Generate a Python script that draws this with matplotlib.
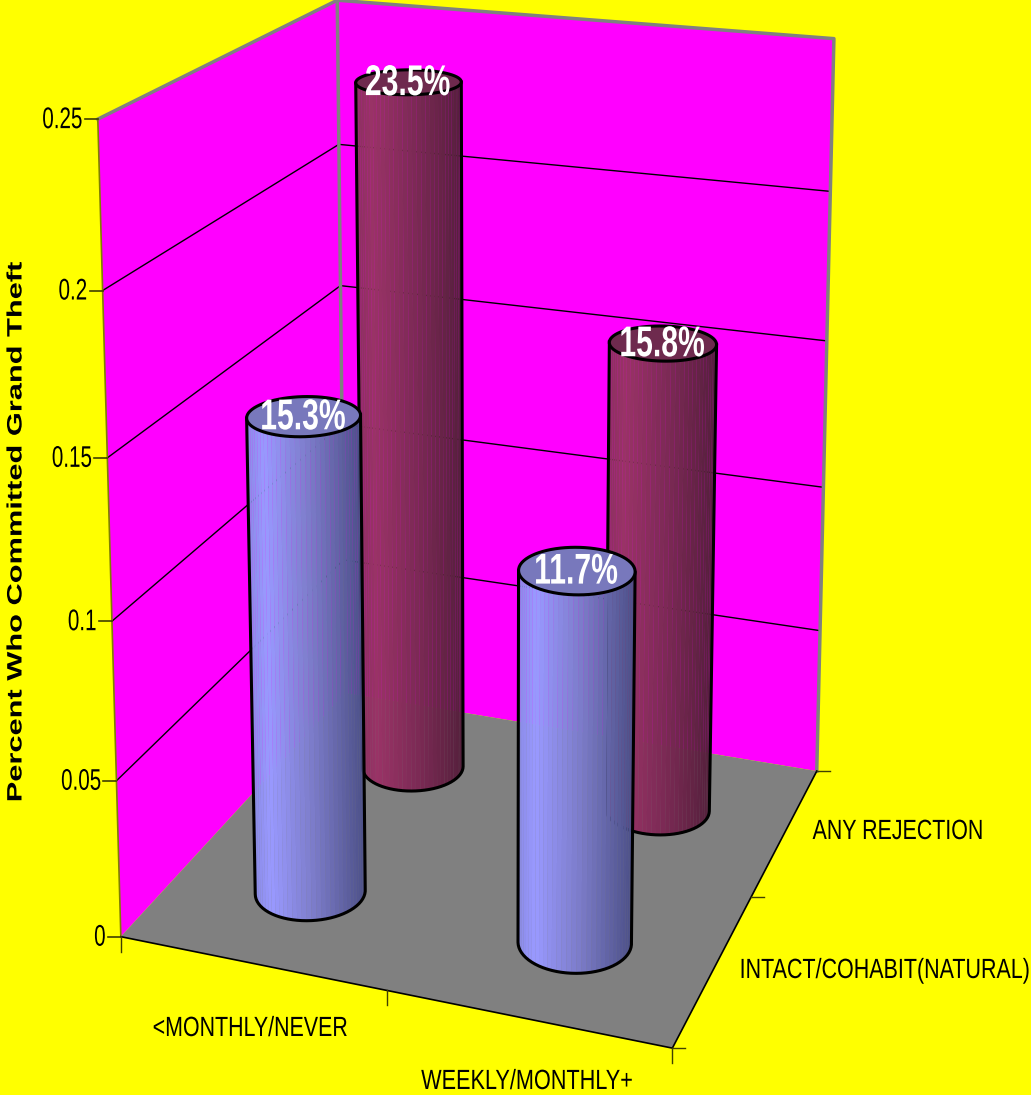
import numpy as np
import matplotlib
matplotlib.use("Agg")
import matplotlib.pyplot as plt
import matplotlib.patheffects as pe
from matplotlib.collections import PolyCollection
from matplotlib.colors import to_rgb
from matplotlib.transforms import Affine2D

plt.rcParams['font.family'] = ['Liberation Sans', 'DejaVu Sans']

# data
x_labels = ['<MONTHLY/NEVER', 'WEEKLY/MONTHLY+']
depth_labels = ['INTACT/COHABIT(NATURAL)', 'ANY REJECTION']
z_ticks = [0, 0.05, 0.1, 0.15, 0.2, 0.25]
z_tick_labels = ['0', '0.05', '0.1', '0.15', '0.2', '0.25']
intact_values = [0.153, 0.117]
rejection_values = [0.235, 0.158]

# box corners (x, depth, z) and where they sit on the picture, used to fit the camera
box_corners = [(0, 0, 0), (2, 0, 0), (2, 2, 0), (0, 2, 0), (0, 0, 0.25), (0, 2, 0.25), (2, 2, 0.25)]
box_pixels = [(121, 936), (672, 1049), (817, 770), (345, 694), (98, 119), (337, 0), (834, 39)]

BAR_R = 0.197
Z_SCALE = 8.0


def fit_camera(corners, pixels):
    rows, rhs = [], []
    for (x, y, z), (u, v) in zip(corners, pixels):
        z = z * Z_SCALE
        rows.append([x, y, z, 1, 0, 0, 0, 0, -u * x, -u * y, -u * z])
        rows.append([0, 0, 0, 0, x, y, z, 1, -v * x, -v * y, -v * z])
        rhs += [u, v]
    m = np.linalg.lstsq(np.array(rows, float), np.array(rhs, float), rcond=None)[0]
    return np.append(m, 1).reshape(3, 4)


CAM = fit_camera(box_corners, box_pixels)


def proj(x, y, z):
    x, y, z = np.broadcast_arrays(np.asarray(x, float), np.asarray(y, float), np.asarray(z, float) * Z_SCALE)
    pts = np.stack([x, y, z, np.ones(x.shape)], axis=-1)
    p = pts @ CAM.T
    return p[..., :2] / p[..., 2:3]


class Squeeze(pe.AbstractPathEffect):
    # the artwork has heavily condensed type, so scale glyphs sideways
    # anchor: 0.5 keeps the centre of the string in place, 1 keeps its right end
    def __init__(self, sx, anchor=0.5):
        super().__init__()
        self.sx = sx
        self.anchor = anchor

    def draw_path(self, renderer, gc, tpath, affine, rgbFace=None):
        ext = tpath.get_extents()
        fix = ext.x0 + (ext.x1 - ext.x0) * self.anchor
        squeeze = Affine2D().translate(-fix, 0).scale(self.sx, 1).translate(fix, 0)
        renderer.draw_path(gc, tpath, squeeze + affine, rgbFace)


def shade(stops, t):
    pos = [s[0] for s in stops]
    cols = np.array([to_rgb(s[1]) for s in stops])
    return np.column_stack([np.interp(t, pos, cols[:, i]) for i in range(3)])


def cylinder(ax, cx, cy, val, stops, cap, order):
    ang = np.linspace(0, 2 * np.pi, 73)[:-1]
    xs, ys = cx + BAR_R * np.cos(ang), cy + BAR_R * np.sin(ang)
    low = proj(xs, ys, 0.0)
    top = proj(xs, ys, val)
    n = len(ang)
    nxt = (np.arange(n) + 1) % n
    quads = np.stack([low, low[nxt], top[nxt], top], axis=1)
    qx, qy = quads[..., 0], quads[..., 1]
    area = np.sum(qx * np.roll(qy, -1, axis=1) - np.roll(qx, -1, axis=1) * qy, axis=1)
    # the sign flips on the hidden half of the side; keep the half that holds the lowest point
    front = np.sign(area) == np.sign(area[np.argmax(low[:, 1])])
    start = np.where(front & ~np.roll(front, 1))[0][0]
    idx = np.roll(np.arange(n), -start)[:front.sum()]
    mids = quads[idx, :, 0].mean(axis=1)
    t = (mids - mids.min()) / (mids.max() - mids.min())
    cols = shade(stops, t)
    # faint underlay so the facet seams only let some of the background through
    ax.add_collection(PolyCollection(quads[idx], facecolors=cols, edgecolors=cols, linewidths=0.3,
                                     alpha=0.3, zorder=order))
    ax.add_collection(PolyCollection(quads[idx], facecolors=cols, edgecolors='none',
                                     antialiaseds=True, zorder=order))
    # outline: down one side, along the front of the base, up the other
    last = nxt[idx[-1]]
    side = np.vstack([top[[idx[0]]], low[idx], low[[last]], top[[last]]])
    ax.plot(side[:, 0], side[:, 1], color='black', lw=2.2, zorder=order + 0.1, solid_joinstyle='round')
    ax.fill(top[:, 0], top[:, 1], facecolor=cap, edgecolor='black', lw=2.2, zorder=order + 0.2)
    c = proj(cx, cy, val)
    ax.text(c[0] - 1, c[1] + 2, f'{val * 100:.1f}%', color='white', fontsize=31, fontweight='bold',
            ha='center', va='center', zorder=order + 0.3, path_effects=[Squeeze(0.70)])


fig = plt.figure(figsize=(10.31, 10.95), dpi=100, facecolor='#FFFF00')
ax = fig.add_axes([0, 0, 1, 1])
ax.set_xlim(0, 1031)
ax.set_ylim(1095, 0)
ax.axis('off')

zero, top_z = 0.0, z_ticks[-1]
a0, c0, d0, e0 = proj(0., 0., zero), proj(2., 0., zero), proj(2., 2., zero), proj(0., 2., zero)
a1, e1, d1 = proj(0., 0., top_z), proj(0., 2., top_z), proj(2., 2., top_z)
ax.fill(*zip(a0, e0, e1, a1), color='#FF00FF', lw=0, zorder=1)
ax.fill(*zip(e0, d0, d1, e1), color='#FF00FF', lw=0, zorder=1)
ax.fill(*zip(a0, c0, d0, e0), color='#808080', lw=0, zorder=2)

# gridlines on the two walls
for z in z_ticks[1:-1]:
    pts = np.array([proj(0., 0., z), proj(0., 2., z), proj(2., 2., z)])
    ax.plot(pts[:, 0], pts[:, 1], color='black', lw=1.0, zorder=3)

# wall edges
ax.plot(*zip(a1, e1, d1, d0), color='#808080', lw=2.5, zorder=3)
ax.plot(*zip(e1, e0), color='#808080', lw=2.5, zorder=3)
ax.plot(*zip(a1, a0), color='#808000', lw=1.2, zorder=3)
ax.plot(*zip(a0, c0, d0), color='black', lw=1.2, zorder=3)

# ticks and labels
for z, lab in zip(z_ticks, z_tick_labels):
    p = proj(0., 0., z)
    ax.plot([p[0] - 13, p[0]], [p[1], p[1]], color='#404000', lw=1.2, zorder=3)
    ax.text(p[0] - 15, p[1] + 1, lab, fontsize=21.5, ha='right', va='center', color='black',
            path_effects=[Squeeze(0.69, anchor=1)])
for x in [0., 1., 2.]:
    p = proj(x, 0., zero)
    ax.plot([p[0], p[0]], [p[1], p[1] + 15], color='#404000', lw=1.0, zorder=3)
for y in [0., 1., 2.]:
    p = proj(2., y, zero)
    ax.plot([p[0], p[0] + 13], [p[1], p[1]], color='#404000', lw=1.0, zorder=3)

ax.text(250, 1029, x_labels[0], fontsize=20, ha='center', va='center', path_effects=[Squeeze(0.77)])
ax.text(527, 1082, x_labels[1], fontsize=20, ha='center', va='center', path_effects=[Squeeze(0.78)])
ax.text(1030, 971, depth_labels[0], fontsize=20, ha='right', va='center',
        path_effects=[Squeeze(0.773, anchor=1)])
ax.text(898, 832, depth_labels[1], fontsize=20, ha='center', va='center', path_effects=[Squeeze(0.77)])
ax.text(16, 531, 'Percent Who Committed Grand Theft', fontsize=15, fontweight='bold', rotation=90,
        ha='center', va='center', path_effects=[Squeeze(1.478)])

blue = [(0, '#8b8be6'), (0.15, '#9999FF'), (0.55, '#7b7bc8'), (1, '#4c5088')]
maroon = [(0, '#8c3060'), (0.15, '#993366'), (0.55, '#7c2a55'), (1, '#55203c')]
cylinder(ax, 0.5, 1.5, rejection_values[0], maroon, '#6e2a4e', 10)
cylinder(ax, 1.5, 1.5, rejection_values[1], maroon, '#6e2a4e', 11)
cylinder(ax, 0.5, 0.5, intact_values[0], blue, '#7878bc', 12)
cylinder(ax, 1.5, 0.5, intact_values[1], blue, '#7878bc', 13)

fig.savefig('out.png', dpi=100, facecolor=fig.get_facecolor())
